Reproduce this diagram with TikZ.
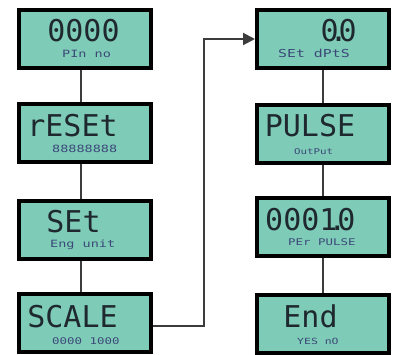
\documentclass[tikz,border=0pt]{standalone}
\usepackage{fontspec}
\newfontfamily\lcdbig{DejaVu Sans Mono}
\newfontfamily\lcdsmall[FakeStretch=1.35]{DejaVu Sans Mono}
\usetikzlibrary{arrows.meta}
\definecolor{lcd}{RGB}{126,204,184}
\definecolor{segdark}{RGB}{30,40,46}
\definecolor{segsmall}{RGB}{60,72,120}
\definecolor{wire}{RGB}{60,60,60}
\begin{document}
\begin{tikzpicture}[x=1pt,y=-1pt,
  lcdbox/.style={draw=black,line width=4pt,fill=lcd,rectangle,minimum width=132pt,minimum height=58pt,inner sep=0pt},
  bigtxt/.style={inner sep=0pt,text=segdark,text height=22pt,text depth=0pt,font=\lcdbig\fontsize{30}{30}\selectfont},
  smalltxt/.style={inner sep=0pt,text=segsmall,anchor=base west,text height=7pt,text depth=1pt},
  wireline/.style={draw=wire,line width=2pt}]
\useasboundingbox (0,0) rectangle (394,354);
% boxes
\node[lcdbox] (l1) at (85,39) {};
\node[lcdbox] (l2) at (85,133) {};
\node[lcdbox] (l3) at (85,229.5) {};
\node[lcdbox] (l4) at (85,323) {};
\node[lcdbox] (r1) at (323,39) {};
\node[lcdbox] (r2) at (323,133.5) {};
\node[lcdbox] (r3) at (323,227) {};
\node[lcdbox] (r4) at (323,324) {};
% connectors
\coordinate (cl) at (81,0);
\coordinate (turn) at (204,0);
\draw[wireline] (cl |- l1.south) -- (cl |- l2.north);
\draw[wireline] (cl |- l2.south) -- (cl |- l3.north);
\draw[wireline] (cl |- l3.south) -- (cl |- l4.north);
\draw[wireline] (r1.south) -- (r2.north);
\draw[wireline] (r2.south) -- (r3.north);
\draw[wireline] (r3.south) -- (r4.north);
\coordinate (sc) at (0,326);
\coordinate (ar) at (0,39);
\draw[wireline,-{Triangle[length=12pt,width=12pt]}] (l4.east |- sc) -- (turn |- sc) -- (turn |- ar) -- (r1.west |- ar);
% big texts
\node[bigtxt,anchor=base] (t1) at (83.5,41) {0000};
\node[bigtxt,anchor=base] (t2) at (72.5,136.5) {rESEt};
\node[bigtxt,anchor=base] (t3) at (73.5,232.5) {SEt};
\node[bigtxt,anchor=base] (t4) at (72.5,327) {SCALE};
\node[bigtxt,anchor=base east] (t5) at (357,41.5) {0\makebox[0pt]{.}0};
\node[bigtxt,anchor=base] (t6) at (310,136) {PULSE};
\node[bigtxt,anchor=base west] (t7) at (265,230) {0001\makebox[0pt]{.}0};
\node[bigtxt,anchor=base] (t8) at (310.5,327) {End};
% small texts
\node[smalltxt,font=\lcdsmall\fontsize{10}{10}\selectfont] (s1) at (62,57) {PIn no};
\node[smalltxt,font=\lcdsmall\fontsize{10}{10}\selectfont] (s2) at (52,152.5) {88888888};
\node[smalltxt,font=\lcdsmall\fontsize{10}{10}\selectfont] (s3) at (50,247.5) {Eng unit};
\node[smalltxt,font=\lcdsmall\fontsize{9.2}{9.2}\selectfont] (s4) at (52,344) {0000 1000};
\node[smalltxt,font=\lcdsmall\fontsize{11}{11}\selectfont] (s5) at (278,57.5) {SEt dPtS};
\node[smalltxt,font=\lcdsmall\fontsize{8}{8}\selectfont] (s6) at (294,154) {OutPut};
\node[smalltxt,font=\lcdsmall\fontsize{9.2}{9.2}\selectfont] (s7) at (288,245) {PEr PULSE};
\node[smalltxt,font=\lcdsmall\fontsize{8.5}{8.5}\selectfont] (s8) at (297,344) {YES nO};
\end{tikzpicture}
\end{document}
